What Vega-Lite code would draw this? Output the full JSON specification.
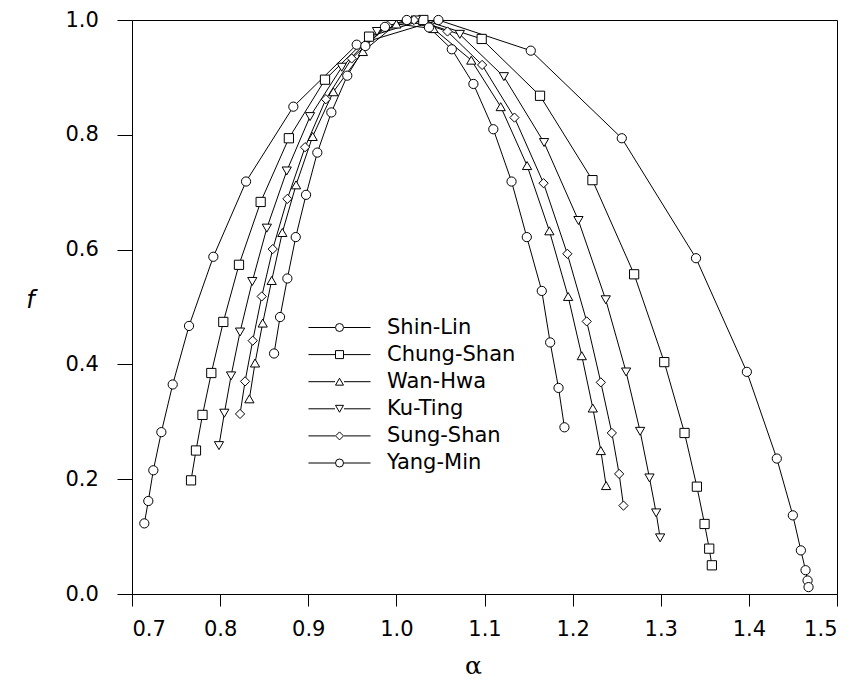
{
  "$schema": "https://vega.github.io/schema/vega-lite/v6.json",
  "width": 705,
  "height": 574,
  "autosize": {"type": "none"},
  "padding": {"left": 132, "top": 20, "right": 19, "bottom": 97},
  "background": "white",
  "config": {
    "view": {"stroke": "black", "strokeWidth": 1},
    "axis": {"grid": false, "domainColor": "black", "tickColor": "black", "labelColor": "black", "labelFont": "DejaVu Sans", "labelFontSize": 21, "domainWidth": 1, "tickWidth": 1}
  },
  "data": {"values": [
    {"s":"Shin-Lin","a":0.714,"f":0.123},{"s":"Shin-Lin","a":0.7185,"f":0.162},{"s":"Shin-Lin","a":0.7242,"f":0.2155},{"s":"Shin-Lin","a":0.7333,"f":0.282},{"s":"Shin-Lin","a":0.7462,"f":0.365},{"s":"Shin-Lin","a":0.7647,"f":0.467},{"s":"Shin-Lin","a":0.7923,"f":0.5875},{"s":"Shin-Lin","a":0.8294,"f":0.7186},{"s":"Shin-Lin","a":0.8831,"f":0.849},{"s":"Shin-Lin","a":0.955,"f":0.957},{"s":"Shin-Lin","a":1.0477,"f":1.0},{"s":"Shin-Lin","a":1.1525,"f":0.9466},{"s":"Shin-Lin","a":1.2558,"f":0.794},{"s":"Shin-Lin","a":1.34,"f":0.585},{"s":"Shin-Lin","a":1.3977,"f":0.387},{"s":"Shin-Lin","a":1.4317,"f":0.236},{"s":"Shin-Lin","a":1.4499,"f":0.137},{"s":"Shin-Lin","a":1.459,"f":0.076},{"s":"Shin-Lin","a":1.4643,"f":0.0415},{"s":"Shin-Lin","a":1.4666,"f":0.0235},{"s":"Shin-Lin","a":1.4677,"f":0.012},
    {"s":"Chung-Shan","a":0.767,"f":0.198},{"s":"Chung-Shan","a":0.7726,"f":0.25},{"s":"Chung-Shan","a":0.78,"f":0.312},{"s":"Chung-Shan","a":0.79,"f":0.385},{"s":"Chung-Shan","a":0.8036,"f":0.474},{"s":"Chung-Shan","a":0.8214,"f":0.5735},{"s":"Chung-Shan","a":0.846,"f":0.683},{"s":"Chung-Shan","a":0.878,"f":0.794},{"s":"Chung-Shan","a":0.919,"f":0.896},{"s":"Chung-Shan","a":0.969,"f":0.971},{"s":"Chung-Shan","a":1.0306,"f":1.0},{"s":"Chung-Shan","a":1.0968,"f":0.967},{"s":"Chung-Shan","a":1.163,"f":0.868},{"s":"Chung-Shan","a":1.2225,"f":0.721},{"s":"Chung-Shan","a":1.2698,"f":0.557},{"s":"Chung-Shan","a":1.304,"f":0.404},{"s":"Chung-Shan","a":1.327,"f":0.2805},{"s":"Chung-Shan","a":1.341,"f":0.187},{"s":"Chung-Shan","a":1.3497,"f":0.122},{"s":"Chung-Shan","a":1.355,"f":0.079},{"s":"Chung-Shan","a":1.358,"f":0.05},
    {"s":"Wan-Hwa","a":0.8332,"f":0.34},{"s":"Wan-Hwa","a":0.8396,"f":0.4024},{"s":"Wan-Hwa","a":0.8483,"f":0.472},{"s":"Wan-Hwa","a":0.8585,"f":0.5462},{"s":"Wan-Hwa","a":0.8706,"f":0.6298},{"s":"Wan-Hwa","a":0.8862,"f":0.7128},{"s":"Wan-Hwa","a":0.905,"f":0.797},{"s":"Wan-Hwa","a":0.9285,"f":0.875},{"s":"Wan-Hwa","a":0.962,"f":0.945},{"s":"Wan-Hwa","a":1.0,"f":0.993},{"s":"Wan-Hwa","a":1.042,"f":0.985},{"s":"Wan-Hwa","a":1.085,"f":0.93},{"s":"Wan-Hwa","a":1.1184,"f":0.849},{"s":"Wan-Hwa","a":1.1483,"f":0.7464},{"s":"Wan-Hwa","a":1.1736,"f":0.6327},{"s":"Wan-Hwa","a":1.1949,"f":0.5184},{"s":"Wan-Hwa","a":1.2104,"f":0.4151},{"s":"Wan-Hwa","a":1.2229,"f":0.324},{"s":"Wan-Hwa","a":1.232,"f":0.2498},{"s":"Wan-Hwa","a":1.238,"f":0.1889},
    {"s":"Ku-Ting","a":0.7987,"f":0.2585},{"s":"Ku-Ting","a":0.8048,"f":0.315},{"s":"Ku-Ting","a":0.8124,"f":0.38},{"s":"Ku-Ting","a":0.8226,"f":0.4564},{"s":"Ku-Ting","a":0.8365,"f":0.5445},{"s":"Ku-Ting","a":0.853,"f":0.6374},{"s":"Ku-Ting","a":0.8756,"f":0.737},{"s":"Ku-Ting","a":0.902,"f":0.8317},{"s":"Ku-Ting","a":0.938,"f":0.9177},{"s":"Ku-Ting","a":0.978,"f":0.98},{"s":"Ku-Ting","a":1.022,"f":1.0},{"s":"Ku-Ting","a":1.072,"f":0.975},{"s":"Ku-Ting","a":1.122,"f":0.9013},{"s":"Ku-Ting","a":1.1676,"f":0.7865},{"s":"Ku-Ting","a":1.2066,"f":0.6507},{"s":"Ku-Ting","a":1.2376,"f":0.5126},{"s":"Ku-Ting","a":1.2607,"f":0.3868},{"s":"Ku-Ting","a":1.2766,"f":0.2834},{"s":"Ku-Ting","a":1.2872,"f":0.2022},{"s":"Ku-Ting","a":1.2948,"f":0.1413},{"s":"Ku-Ting","a":1.2993,"f":0.0978},
    {"s":"Sung-Shan","a":0.8226,"f":0.3137},{"s":"Sung-Shan","a":0.8283,"f":0.3704},{"s":"Sung-Shan","a":0.837,"f":0.4413},{"s":"Sung-Shan","a":0.8472,"f":0.5184},{"s":"Sung-Shan","a":0.8597,"f":0.6009},{"s":"Sung-Shan","a":0.8763,"f":0.6884},{"s":"Sung-Shan","a":0.8964,"f":0.7784},{"s":"Sung-Shan","a":0.92,"f":0.862},{"s":"Sung-Shan","a":0.9493,"f":0.933},{"s":"Sung-Shan","a":0.99,"f":0.99},{"s":"Sung-Shan","a":1.02,"f":1.0},{"s":"Sung-Shan","a":1.058,"f":0.98},{"s":"Sung-Shan","a":1.0973,"f":0.9217},{"s":"Sung-Shan","a":1.134,"f":0.83},{"s":"Sung-Shan","a":1.167,"f":0.7157},{"s":"Sung-Shan","a":1.194,"f":0.5927},{"s":"Sung-Shan","a":1.216,"f":0.4749},{"s":"Sung-Shan","a":1.232,"f":0.3687},{"s":"Sung-Shan","a":1.2445,"f":0.2806},{"s":"Sung-Shan","a":1.2528,"f":0.2092},{"s":"Sung-Shan","a":1.2577,"f":0.154},
    {"s":"Yang-Min","a":0.8612,"f":0.419},{"s":"Yang-Min","a":0.868,"f":0.4825},{"s":"Yang-Min","a":0.8763,"f":0.5497},{"s":"Yang-Min","a":0.8858,"f":0.6218},{"s":"Yang-Min","a":0.8975,"f":0.6954},{"s":"Yang-Min","a":0.9103,"f":0.769},{"s":"Yang-Min","a":0.9262,"f":0.839},{"s":"Yang-Min","a":0.9443,"f":0.903},{"s":"Yang-Min","a":0.9648,"f":0.9547},{"s":"Yang-Min","a":0.987,"f":0.988},{"s":"Yang-Min","a":1.0118,"f":1.0},{"s":"Yang-Min","a":1.037,"f":0.987},{"s":"Yang-Min","a":1.0629,"f":0.949},{"s":"Yang-Min","a":1.0874,"f":0.8886},{"s":"Yang-Min","a":1.11,"f":0.8097},{"s":"Yang-Min","a":1.1307,"f":0.7186},{"s":"Yang-Min","a":1.148,"f":0.6218},{"s":"Yang-Min","a":1.165,"f":0.528},{"s":"Yang-Min","a":1.1745,"f":0.4383},{"s":"Yang-Min","a":1.184,"f":0.359},{"s":"Yang-Min","a":1.1907,"f":0.2904}
  ]},
  "encoding": {
    "x": {"field": "a", "type": "quantitative", "scale": {"domain": [0.7, 1.5], "nice": false, "zero": false},
      "axis": {"values": [0.7,0.8,0.9,1.0,1.1,1.2,1.3,1.4,1.5], "format": ".1f", "tickSize": 12, "labelPadding": 12, "title": "α", "titleFont": "DejaVu Serif", "titleFontSize": 25, "titleFontWeight": "normal", "titleColor": "black", "titleX": 341, "titleY": 71, "titleBaseline": "middle", "titleAnchor": null}},
    "y": {"field": "f", "type": "quantitative", "scale": {"domain": [0, 1], "nice": false},
      "axis": {"values": [0,0.2,0.4,0.6,0.8,1.0], "format": ".1f", "tickSize": 15, "labelAlign": "left", "labelPadding": 52, "title": "f", "titleFont": "DejaVu Sans", "titleFontStyle": "italic", "titleFontSize": 24, "titleFontWeight": "normal", "titleColor": "black", "titleAngle": 0, "titleX": -102, "titleY": 280, "titleAlign": "center", "titleBaseline": "middle"}}
  },
  "layer": [
    {"mark": {"type": "line", "strokeWidth": 1},
     "encoding": {"color": {"field": "s", "type": "nominal", "scale": {"range": ["black"]},
        "legend": {"orient": "none", "legendX": 197, "legendY": 297, "title": null, "padding": 0, "labelFont": "DejaVu Sans", "labelFontSize": 21, "labelExpr": "''", "symbolType": "M-6.9,0H-1M1,0H6.9", "symbolSize": 81, "symbolStrokeWidth": 1, "symbolStrokeColor": "black", "labelOffset": 37, "rowPadding": 5.1,
          "encoding": {"symbols": {"stroke": {"value": "black"}, "strokeWidth": {"value": 1}, "opacity": {"value": 1}}}}}}},
    {"mark": {"type": "point", "filled": true, "fill": "white", "stroke": "black", "strokeWidth": 1, "size": 85, "opacity": 1},
     "encoding": {"shape": {"field": "s", "type": "nominal",
        "scale": {"domain": ["Shin-Lin","Chung-Shan","Wan-Hwa","Ku-Ting","Sung-Shan","Yang-Min"], "range": ["circle","square","triangle-up","triangle-down","diamond","circle"]},
        "legend": {"orient": "none", "legendX": 197, "legendY": 297, "title": null, "padding": 0, "labelFont": "DejaVu Sans", "labelFontSize": 21, "labelColor": "black", "symbolSize": 64, "symbolStrokeWidth": 1, "symbolStrokeColor": "black", "symbolFillColor": "white", "labelOffset": 37, "rowPadding": 5.1,
          "encoding": {"symbols": {"fill": {"value": "white"}, "stroke": {"value": "black"}, "strokeWidth": {"value": 1}, "opacity": {"value": 1}}}}}}
    }
  ]
}
